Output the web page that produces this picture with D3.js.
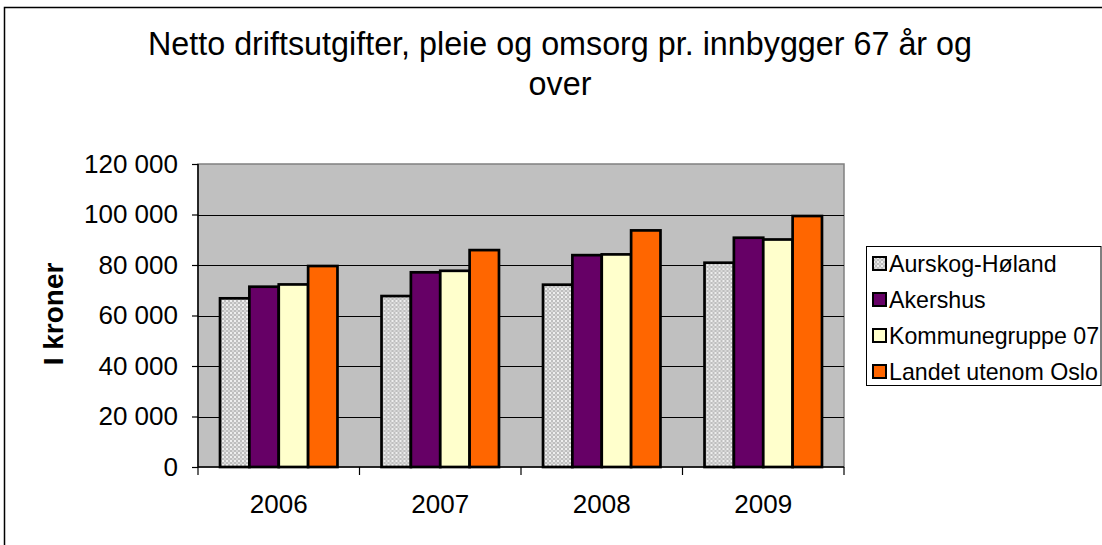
<!DOCTYPE html>
<html>
<head>
<meta charset="utf-8">
<script src="https://cdn.jsdelivr.net/npm/d3@7"></script>
<style>
  html, body { margin: 0; padding: 0; background: #fff; }
  svg { display: block; font-family: "Liberation Sans", Arial, sans-serif; }
</style>
</head>
<body>
<svg id="chart" width="1102" height="545"></svg>
<script>
const years = ["2006", "2007", "2008", "2009"];
const seriesNames = ["Aurskog-Høland", "Akershus", "Kommunegruppe 07", "Landet utenom Oslo"];
const aurskogHoland = [66800, 67700, 72200, 80900];
const akershus = [71400, 77100, 83900, 90800];
const kommunegruppe07 = [72300, 77700, 84200, 90100];
const landetUtenomOslo = [79600, 85900, 93700, 99400];
const yTicks = [0, 20000, 40000, 60000, 80000, 100000, 120000];
const titleLines = ["Netto driftsutgifter, pleie og omsorg pr. innbygger 67 år og", "over"];
const yLabel = "I kroner";

const seriesValues = [aurskogHoland, akershus, kommunegruppe07, landetUtenomOslo];
const fills = ["url(#dots)", "#660066", "#ffffcc", "#ff6600"];

const svg = d3.select("#chart");

// pattern for Aurskog-Høland
const defs = svg.append("defs");
const pat = defs.append("pattern").attr("id", "dots")
  .attr("width", 4).attr("height", 4).attr("patternUnits", "userSpaceOnUse");
pat.append("rect").attr("width", 4).attr("height", 4).attr("fill", "#bebebe");
pat.append("rect").attr("x", 0).attr("y", 0).attr("width", 2).attr("height", 2).attr("fill", "#eeeeee");
pat.append("rect").attr("x", 2).attr("y", 2).attr("width", 2).attr("height", 2).attr("fill", "#d8d8d8");

// outer chart border
svg.append("rect").attr("x", 4.5).attr("y", 7.5).attr("width", 1200).attr("height", 600)
  .attr("fill", "#fff").attr("stroke", "#000").attr("stroke-width", 1.5);

const plot = { left: 198, top: 164, right: 844, bottom: 467 };

const y = d3.scaleLinear().domain([0, 120000]).range([plot.bottom, plot.top]);
const x0 = d3.scaleBand().domain(years).range([plot.left, plot.right]).padding(0);
const bw = x0.bandwidth() / 5.5;
const x1 = d3.scaleBand().domain(seriesNames)
  .range([bw * 0.75, x0.bandwidth() - bw * 0.75]).padding(0);

// plot area
svg.append("rect").attr("x", plot.left).attr("y", plot.top)
  .attr("width", plot.right - plot.left).attr("height", plot.bottom - plot.top)
  .attr("fill", "#c0c0c0").attr("stroke", "#808080").attr("stroke-width", 1.5);

// gridlines
svg.append("g").selectAll("line").data(yTicks.filter(d => d > 0 && d < 120000)).join("line")
  .attr("x1", plot.left).attr("x2", plot.right)
  .attr("y1", d => Math.round(y(d)) + 0.5).attr("y2", d => Math.round(y(d)) + 0.5)
  .attr("stroke", "#000").attr("stroke-width", 1);

// bars
const groups = svg.append("g").selectAll("g").data(years).join("g")
  .attr("transform", d => `translate(${x0(d)},0)`);
groups.selectAll("rect")
  .data((d, i) => seriesNames.map((s, j) => ({ s, j, v: seriesValues[j][i] })))
  .join("rect")
  .attr("x", d => x1(d.s))
  .attr("y", d => y(d.v))
  .attr("width", x1.bandwidth())
  .attr("height", d => plot.bottom - y(d.v))
  .attr("fill", d => fills[d.j])
  .attr("stroke", "#000").attr("stroke-width", 2.7);

// y axis
const yAxis = d3.axisLeft(y).tickValues(yTicks).tickSize(6).tickPadding(14)
  .tickFormat(d => d3.format(",")(d).replace(/,/g, " "));
const gy = svg.append("g").attr("transform", `translate(${plot.left},0)`).call(yAxis);
gy.select(".domain").attr("stroke", "#000").attr("stroke-width", 1.5).attr("d", `M0,${plot.top}V${plot.bottom}`);
gy.selectAll(".tick line").attr("stroke", "#000").attr("stroke-width", 1.2);
gy.selectAll(".tick text").attr("font-size", 26).attr("fill", "#000")
  .attr("font-family", "Liberation Sans, Arial, sans-serif");

// x axis
const xAxis = d3.axisBottom(x0).tickSize(0).tickPadding(28);
const gx = svg.append("g").attr("transform", `translate(0,${plot.bottom})`).call(xAxis);
gx.select(".domain").attr("stroke", "#000").attr("stroke-width", 1.5).attr("d", `M${plot.left},0H${plot.right}`);
gx.selectAll(".tick text").attr("font-size", 26).attr("fill", "#000")
  .attr("font-family", "Liberation Sans, Arial, sans-serif");
// category boundary ticks
const bounds = years.map(d => x0(d)).concat([x0(years[years.length - 1]) + x0.bandwidth()]);
svg.append("g").selectAll("line").data(bounds).join("line")
  .attr("x1", d => d).attr("x2", d => d)
  .attr("y1", plot.bottom).attr("y2", plot.bottom + 8)
  .attr("stroke", "#000").attr("stroke-width", 1.2);

// title
svg.append("g").selectAll("text").data(titleLines).join("text")
  .attr("x", 560).attr("y", (d, i) => 55 + i * 40)
  .attr("text-anchor", "middle").attr("font-size", 32.3).attr("fill", "#000")
  .text(d => d);

// y label
svg.append("text").attr("transform", "translate(63,314) rotate(-90)")
  .attr("text-anchor", "middle").attr("font-size", 28).attr("font-weight", "bold")
  .attr("fill", "#000").text(yLabel);

// legend
const lg = svg.append("g");
lg.append("rect").attr("x", 866.5).attr("y", 246.5).attr("width", 234.5).attr("height", 139)
  .attr("fill", "#fff").attr("stroke", "#000").attr("stroke-width", 1);
const items = lg.selectAll("g").data(seriesNames).join("g")
  .attr("transform", (d, i) => `translate(873,${257 + i * 36})`);
items.append("rect").attr("width", 13).attr("height", 13)
  .attr("fill", (d, i) => fills[i]).attr("stroke", "#000").attr("stroke-width", 2);
items.append("text").attr("x", 16).attr("y", 14.5)
  .attr("font-size", 23.2).attr("fill", "#000").text(d => d);
</script>
</body>
</html>
